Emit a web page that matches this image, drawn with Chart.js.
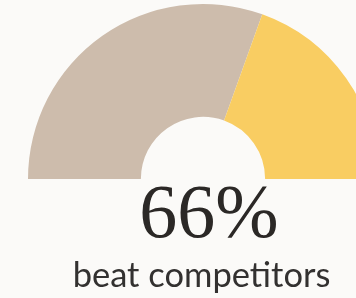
<!DOCTYPE html>
<html>
<head>
<meta charset="utf-8">
<script src="https://cdn.jsdelivr.net/npm/chart.js@4"></script>
<style>
    html, body { margin: 0; padding: 0; background: #fbfaf8; overflow: hidden; }
    #wrap { position: relative; width: 356px; height: 298px; overflow: hidden; }
    canvas { position: absolute; left: 0; top: 0; }
</style>
</head>
<body>
<div id="wrap">
    <canvas id="gauge" width="400" height="298"></canvas>
</div>
<script>
// 데이터
const labels = ['beat competitors', 'others'];
const shares = [61, 39];
const sliceColors = ['#cdbcac', '#f9cd62'];
const bigLabel = '66%';
const subLabel = 'beat competitors';

// 가운데 텍스트 그리기
const captionPlugin = {
    id: 'caption',
    afterDraw(chart) {
        const ctx = chart.ctx;
        ctx.save();
        ctx.fillStyle = '#2b2826';
        ctx.textAlign = 'center';
        ctx.textBaseline = 'alphabetic';
        ctx.font = '76px "Liberation Serif", serif';
        ctx.fillText(bigLabel, 209, 237);
        ctx.fillStyle = '#333130';
        ctx.font = '34.5px Lato, sans-serif';
        ctx.fillText(subLabel, 201.5, 287);
        ctx.restore();
    }
};

const gaugeChart = new Chart(document.getElementById('gauge'), {
    type: 'doughnut',
    data: {
        labels: labels,
        datasets: [{
            data: shares,
            backgroundColor: sliceColors,
            borderWidth: 0
        }]
    },
    options: {
        responsive: false,
        animation: false,
        rotation: -90,
        circumference: 180,
        cutout: '35.5%',
        layout: {
            padding: { left: 28, top: 4, right: 22, bottom: 119 }
        },
        plugins: {
            legend: { display: false },
            tooltip: { enabled: false }
        }
    },
    plugins: [captionPlugin]
});
</script>
</body>
</html>
